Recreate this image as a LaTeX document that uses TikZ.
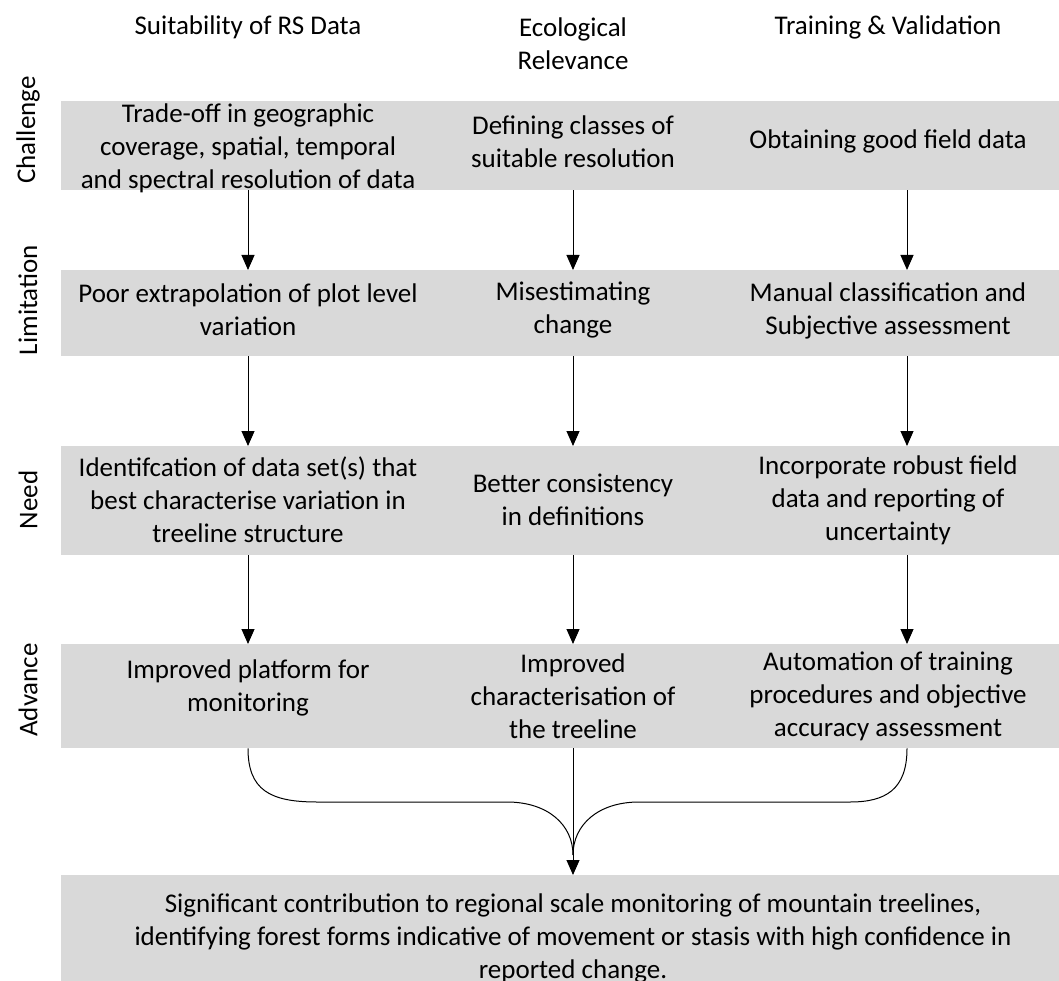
\documentclass[tikz,border=0pt]{standalone}
\usepackage{fontspec}
\setmainfont{Carlito}
\usetikzlibrary{arrows.meta}
\definecolor{bandgray}{RGB}{217,217,217}
\tikzset{
  band/.style={fill=bandgray, inner sep=0pt, minimum width=998pt, anchor=north west},
  cell/.style={align=center, inner sep=0pt, font=\fontsize{27}{33}\selectfont},
  rowlabel/.style={rotate=90, inner sep=0pt, font=\fontsize{27}{33}\selectfont},
  flow/.style={-{Triangle[width=13pt,length=15pt]}, line width=1pt},
}
\begin{document}
\begin{tikzpicture}[x=1pt,y=-1pt]
    \useasboundingbox (0,0) rectangle (1059,981);
    % Grey rows
    \node[band, minimum height=89pt] (chal) at (61,101) {};
    \node[band, minimum height=86pt] (lim) at (61,270) {};
    \node[band, minimum height=109pt] (need) at (61,446) {};
    \node[band, minimum height=104pt] (adv) at (61,644) {};
    \node[band, minimum height=125pt] (fin) at (61,875) {};
    % Column lines for the arrows
    \coordinate (a1) at (248,0);
    \coordinate (a2) at (573,0);
    \coordinate (a3) at (907,0);
    % Column headings
    \node[cell] (h1) at (248,27) {Suitability of RS Data};
    \node[cell] (h2) at (573,44) {Ecological\\Relevance};
    \node[cell] (h3) at (888,27) {Training \& Validation};
    % Row labels
    \node[rowlabel] (lchal) at (28,130) {Challenge};
    \node[rowlabel] (llim) at (28,300) {Limitation};
    \node[rowlabel] (lneed) at (28,500) {Need};
    \node[rowlabel] (ladv) at (28,690) {Advance};
    % Challenge
    \node[cell] (c1) at (248,148) {Trade-off in geographic\\coverage, spatial, temporal\\and spectral resolution of data};
    \node[cell] (c2) at (573,142) {Defining classes of\\suitable resolution};
    \node[cell] (c3) at (888,141) {Obtaining good field data};
    % Limitation
    \node[cell] (m1) at (248,310) {Poor extrapolation of plot level\\variation};
    \node[cell] (m2) at (573,310) {Misestimating\\change};
    \node[cell] (m3) at (888,311) {Manual classification and\\Subjective assessment};
    % Need
    \node[cell] (n1) at (248,500) {Identifcation of data set(s) that\\best characterise variation in\\treeline structure};
    \node[cell] (n2) at (573,500) {Better consistency\\in definitions};
    \node[cell] (n3) at (888,500) {Incorporate robust field\\data and reporting of\\uncertainty};
    % Advance
    \node[cell] (v1) at (248,688) {Improved platform for\\monitoring};
    \node[cell] (v2) at (573,696) {Improved\\characterisation of\\the treeline};
    \node[cell] (v3) at (888,696) {Automation of training\\procedures and objective\\accuracy assessment};
    % Outcome
    \node[cell] (out) at (573,938) {Significant contribution to regional scale monitoring of mountain treelines,\\identifying forest forms indicative of movement or stasis with high confidence in\\reported change.};
    % Arrows down the columns
    \foreach \c in {a1,a2,a3} {
        \draw[flow] (\c |- chal.south) -- (\c |- lim.north);
        \draw[flow] (\c |- lim.south) -- (\c |- need.north);
        \draw[flow] (\c |- need.south) -- (\c |- adv.north);
    }
    % Bracket into the outcome
    \coordinate (merge) at (573,855);
    \draw[line width=1pt] (a1 |- adv.south) .. controls (248,790) and (270,802) .. (317,802)
        -- (507,802) .. controls (548,802) and (573,825) .. (merge);
    \draw[line width=1pt] (a3 |- adv.south) .. controls (907,790) and (885,802) .. (850,802)
        -- (639,802) .. controls (598,802) and (573,825) .. (merge);
    \draw[flow] (a2 |- adv.south) -- (a2 |- fin.north);
\end{tikzpicture}
\end{document}
